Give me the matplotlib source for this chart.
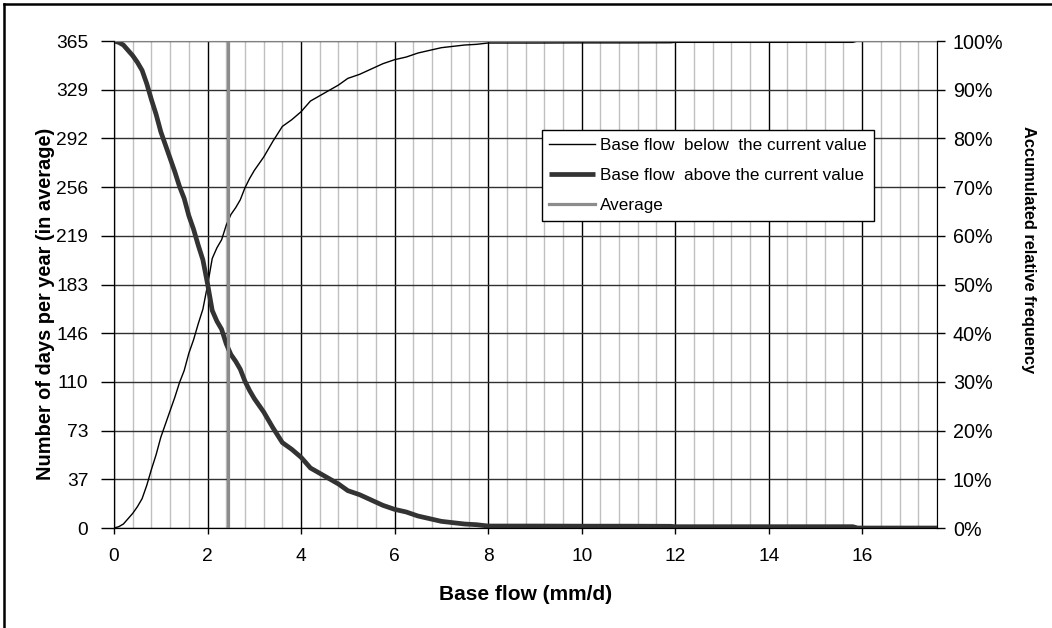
import numpy as np
import matplotlib
matplotlib.use('Agg')
import matplotlib.pyplot as plt
from matplotlib.lines import Line2D
from matplotlib.ticker import MultipleLocator, PercentFormatter

plt.rcParams['font.family'] = ['Liberation Sans', 'DejaVu Sans']

# base flow (mm/d)
flow = [0, 0.1, 0.2, 0.3, 0.4, 0.5, 0.6, 0.7, 0.8, 0.9, 1.0, 1.1, 1.2, 1.3, 1.4,
        1.5, 1.6, 1.7, 1.8, 1.9, 2.0, 2.1, 2.2, 2.3, 2.4, 2.5, 2.6, 2.7, 2.8, 2.9,
        3.0, 3.2, 3.4, 3.6, 3.8, 4.0, 4.2, 4.4, 4.6, 4.8, 5.0, 5.25, 5.5, 5.75,
        6.0, 6.25, 6.5, 6.75, 7.0, 7.25, 7.5, 7.75, 8.0, 9.0, 10.0, 11.0, 11.9,
        12.0, 14.0, 15.8, 15.9, 17.6]
# days per year with base flow below the value
days_below = [0, 1, 3, 7, 11, 16, 22, 32, 44, 55, 68, 78, 88, 98, 109,
              118, 131, 141, 153, 164, 182, 202, 210, 216, 227, 235, 240, 246, 255, 262,
              268, 278, 290, 301, 306, 312, 320, 324, 328, 332, 337, 340, 344, 348,
              351, 353, 356, 358, 360, 361, 362, 362.5, 363.5, 363.5, 363.6, 363.6, 363.7,
              364, 364, 364, 365, 365]
# days per year with base flow above the value
days_above = [365, 364, 362, 358, 354, 349, 343, 333, 321, 310, 297, 287, 277, 267, 256,
              247, 234, 224, 212, 201, 183, 163, 155, 149, 138, 130, 125, 119, 110, 103,
              97, 87, 75, 64, 59, 53, 45, 41, 37, 33, 28, 25, 21, 17,
              14, 12, 9, 7, 5, 4, 3, 2.5, 1.5, 1.5, 1.4, 1.4, 1.3,
              1, 1, 1, 0, 0]
average_flow = 2.44

left_labels = ['0', '37', '73', '110', '146', '183', '219', '256', '292', '329', '365']

fig = plt.figure(figsize=(10.52, 6.28), dpi=100)
ax = fig.add_axes([0.1084, 0.1592, 0.7823, 0.7755])

# grid
ax.xaxis.set_major_locator(MultipleLocator(2))
ax.xaxis.set_minor_locator(MultipleLocator(0.4))
ax.grid(which='minor', axis='x', color='#c0c0c0', lw=1.0)
ax.grid(which='major', axis='x', color='black', lw=1.0)
ax.grid(which='major', axis='y', color='#303030', lw=1.0)
ax.set_axisbelow(True)

l1, = ax.plot(flow, days_below, color='black', lw=1.0,
              label='Base flow  below  the current value')
l2, = ax.plot(flow, days_above, color='#333333', lw=3.4, solid_capstyle='butt',
              label='Base flow  above the current value')
l3 = ax.axvline(average_flow, color='#8c8c8c', lw=2.3, label='Average')

ax.set_xlim(0, 17.6)
ax.set_ylim(0, 365)
ax.set_yticks(np.linspace(0, 365, 11), left_labels)
ax.tick_params(which='major', direction='out', labelsize=13.8, width=1)
ax.tick_params(axis='y', length=9.5, pad=9)
ax.tick_params(axis='x', length=4.5, pad=10)
ax.tick_params(which='minor', length=0)
for s in ['left', 'bottom']:
    ax.spines[s].set_color('black')
ax.spines['top'].set_color('#808080')
ax.spines['right'].set_color('#808080')

ax2 = ax.twinx()
ax2.set_ylim(0, 1)
ax2.yaxis.set_major_locator(MultipleLocator(0.1))
ax2.yaxis.set_major_formatter(PercentFormatter(1.0, decimals=0))
ax2.tick_params(direction='out', length=5.5, pad=6, labelsize=14.2, width=1)
ax2.spines['right'].set_color('black')
ax2.spines['top'].set_visible(False)

ax.set_xlabel('Base flow (mm/d)', fontsize=15, fontweight='bold', labelpad=14)
ax.set_ylabel('Number of days per year (in average)', fontsize=14.4, fontweight='bold',
              ha='center', va='center', rotation_mode='default')
ax.yaxis.set_label_coords(-0.0838, 0.461)
ax2.set_ylabel('Accumulated relative frequency', fontsize=11.8, fontweight='bold',
               rotation=270, ha='center', va='center', rotation_mode='default')
ax2.yaxis.set_label_coords(1.1106, 0.571)

leg = ax2.legend(handles=[l1, l2, l3], loc='upper left', bbox_to_anchor=(0.5197, 0.817),
                 fontsize=12.3, frameon=True, fancybox=False, framealpha=1,
                 edgecolor='black', borderpad=0.45, handlelength=2.65, handletextpad=0.3,
                 labelspacing=0.88, borderaxespad=0)
leg.get_frame().set_linewidth(1.0)

# outer frame (left and top only visible)
fig.add_artist(Line2D([0.004, 0.004], [0, 0.994], color='black', lw=1.8, transform=fig.transFigure))
fig.add_artist(Line2D([0.004, 1], [0.994, 0.994], color='black', lw=1.8, transform=fig.transFigure))

fig.savefig('out.png', dpi=100)
